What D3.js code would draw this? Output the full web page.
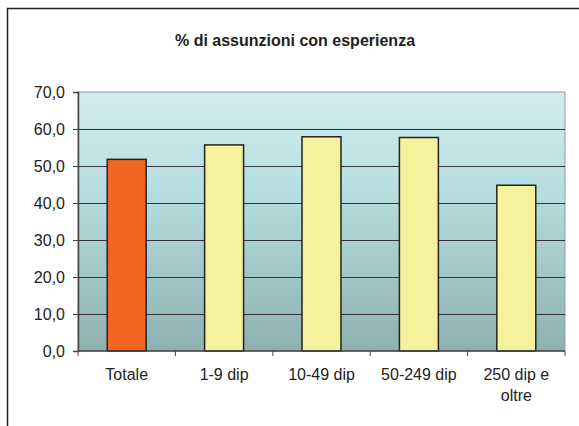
<!DOCTYPE html>
<html>
<head>
<meta charset="utf-8">
<script src="https://cdn.jsdelivr.net/npm/d3@7"></script>
<style>
  body { margin: 0; background: #fff; }
  text { font-family: "Liberation Sans", Arial, sans-serif; fill: #222; }
</style>
</head>
<body>
<div id="chart"></div>
<script>
// Data
var categories = ["Totale", "1-9 dip", "10-49 dip", "50-249 dip", "250 dip e oltre"],
  values = [51.8, 55.7, 57.9, 57.7, 44.8],
  barColors = ["#f26522", "#f6f19d", "#f6f19d", "#f6f19d", "#f6f19d"],
  yTicks = [0, 10, 20, 30, 40, 50, 60, 70];

var title = "% di assunzioni con esperienza";

// Placement
var W = 579, H = 426,
  mLeft = 78, mTop = 92, plotW = 487, plotH = 259;

var svg = d3.select("#chart").append("svg")
  .attr("width", W)
  .attr("height", H);

// outer frame (runs off the right and bottom edges)
svg.append("rect")
  .attr("x", 7.5).attr("y", 8.5)
  .attr("width", 600).attr("height", 500)
  .attr("fill", "none")
  .attr("stroke", "#222")
  .attr("stroke-width", 1.5);

svg.append("text")
  .attr("x", 295).attr("y", 46)
  .attr("text-anchor", "middle")
  .style("font-size", "16px")
  .style("font-weight", "bold")
  .text(title);

var defs = svg.append("defs");
var grad = defs.append("linearGradient")
  .attr("id", "bg")
  .attr("x1", 0).attr("y1", 0).attr("x2", 0).attr("y2", 1);
grad.append("stop").attr("offset", "0%").attr("stop-color", "#d3ecf0");
grad.append("stop").attr("offset", "35%").attr("stop-color", "#b8e0e2");
grad.append("stop").attr("offset", "100%").attr("stop-color", "#8eb1b0");

var x = d3.scaleBand()
  .domain(categories)
  .range([0, plotW])
  .paddingInner(0.6)
  .paddingOuter(0.3);
var y = d3.scaleLinear()
  .domain([0, 70])
  .range([plotH, 0]);

var g = svg.append("g")
  .attr("transform", "translate(" + mLeft + "," + mTop + ")");

g.append("rect")
  .attr("width", plotW)
  .attr("height", plotH)
  .attr("fill", "url(#bg)")
  .attr("stroke", "#999")
  .attr("stroke-width", 1);

// gridlines
g.append("g").selectAll("line")
  .data(yTicks.filter(function(d) { return d > 0 && d < 70; }))
  .enter().append("line")
  .attr("x1", 0).attr("x2", plotW)
  .attr("y1", function(d) { return Math.round(y(d)) + 0.5; })
  .attr("y2", function(d) { return Math.round(y(d)) + 0.5; })
  .attr("stroke", "#333")
  .attr("stroke-width", 1);

// bars
g.append("g").selectAll("rect")
  .data(values)
  .enter().append("rect")
  .attr("x", function(d, i) { return x(categories[i]); })
  .attr("y", function(d) { return y(d); })
  .attr("width", x.bandwidth())
  .attr("height", function(d) { return plotH - y(d); })
  .attr("fill", function(d, i) { return barColors[i]; })
  .attr("stroke", "#222")
  .attr("stroke-width", 1.5);

// y axis
var yAxis = d3.axisLeft(y)
  .tickValues(yTicks)
  .tickSize(5)
  .tickPadding(8)
  .tickFormat(function(d) { return d3.format(".1f")(d).replace(".", ","); });
var ya = g.append("g").call(yAxis);
ya.select(".domain").attr("stroke", "#444").attr("stroke-width", 1.5);
ya.selectAll(".tick line").attr("stroke", "#444");
ya.selectAll("text").style("font-size", "16px").attr("fill", "#222");

// x axis
var xTickScale = d3.scaleLinear().domain([0, categories.length]).range([0, plotW]);
var xa = g.append("g").attr("transform", "translate(0," + plotH + ")");
xa.append("line")
  .attr("x1", 0).attr("x2", plotW)
  .attr("stroke", "#444").attr("stroke-width", 1.5);
xa.selectAll(".xt")
  .data(d3.range(categories.length + 1))
  .enter().append("line")
  .attr("class", "xt")
  .attr("x1", function(d) { return xTickScale(d); })
  .attr("x2", function(d) { return xTickScale(d); })
  .attr("y1", 0).attr("y2", 5)
  .attr("stroke", "#444");

// wrapped category labels
var catLines = [["Totale"], ["1-9 dip"], ["10-49 dip"], ["50-249 dip"], ["250 dip e", "oltre"]];
xa.selectAll(".lbl")
  .data(categories)
  .enter().append("text")
  .attr("class", "lbl")
  .attr("text-anchor", "middle")
  .style("font-size", "16px")
  .attr("transform", function(d) { return "translate(" + (x(d) + x.bandwidth() / 2) + ",29)"; })
  .each(function(d, i) {
    var t = d3.select(this);
    catLines[i].forEach(function(s, k) {
      t.append("tspan").attr("x", 0).attr("dy", k === 0 ? 0 : 21).text(s);
    });
  });
</script>
</body>
</html>
